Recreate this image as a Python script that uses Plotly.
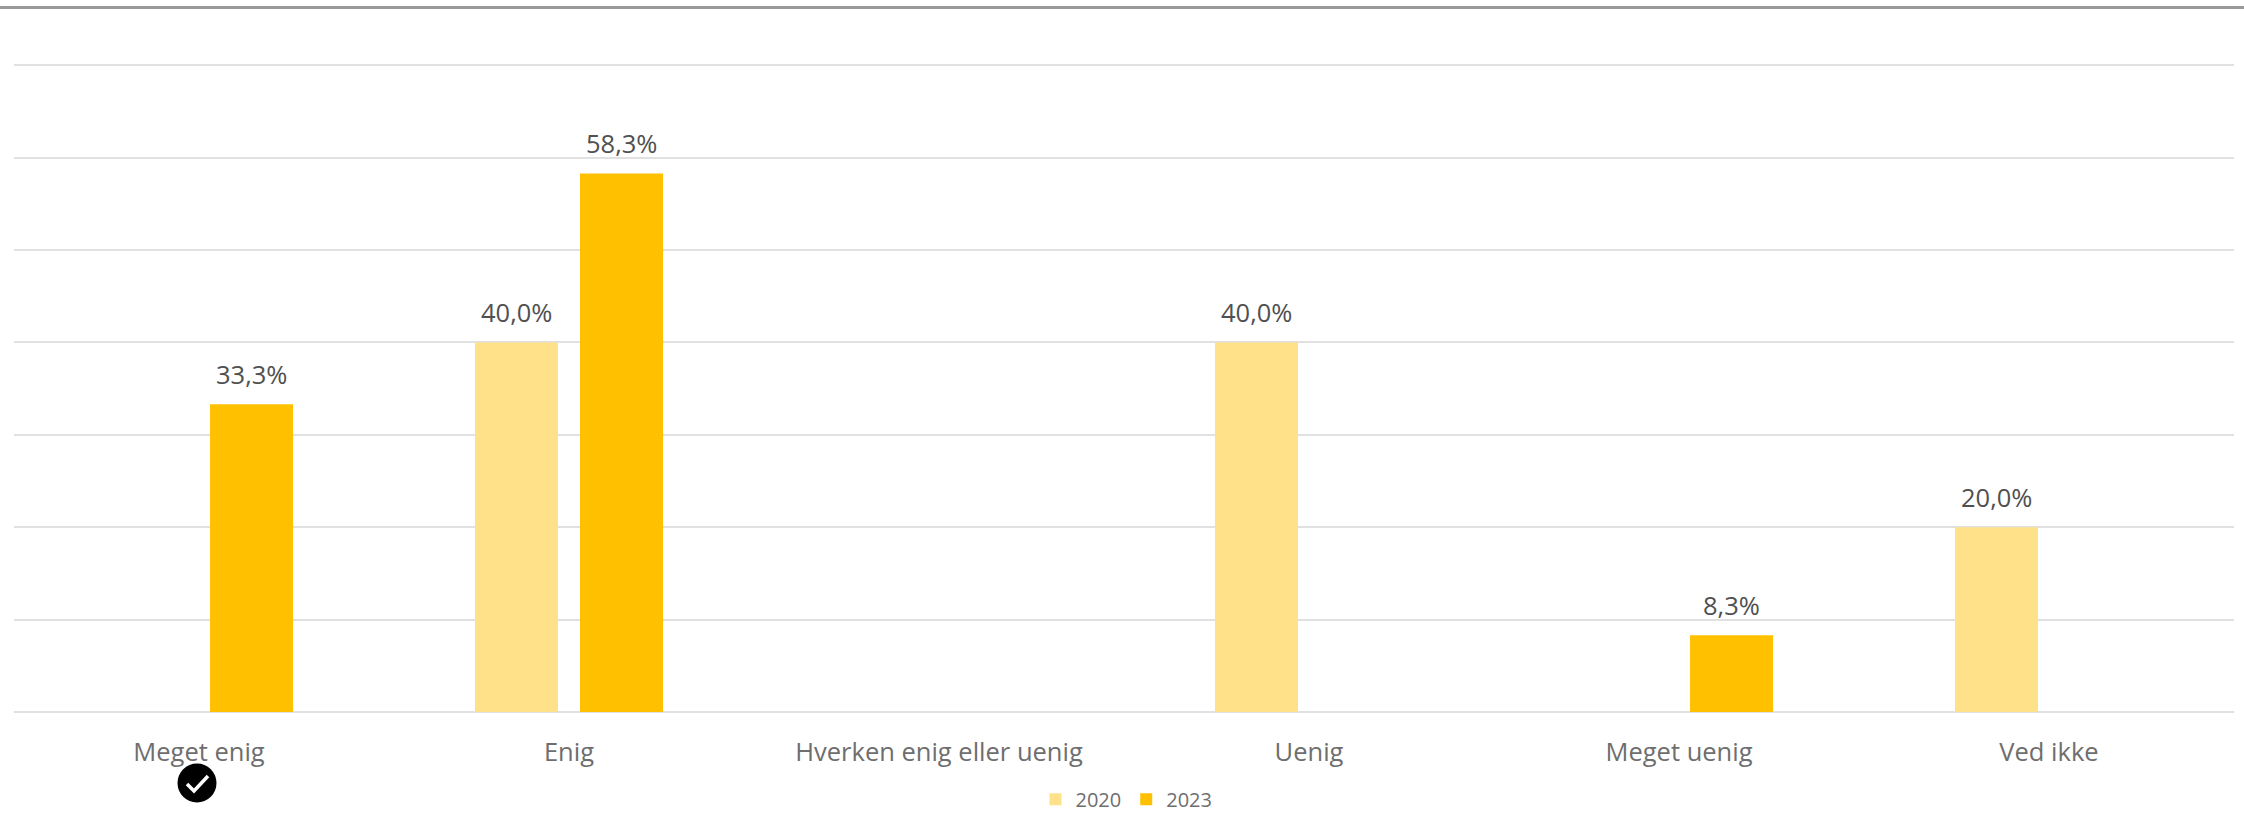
import plotly.graph_objects as go

categories = ["Meget enig", "Enig", "Hverken enig eller uenig", "Uenig", "Meget uenig", "Ved ikke"]
values_2020 = [None, 40.0, None, 40.0, None, 20.0]
values_2023 = [33.3, 58.3, None, None, 8.3, None]
y_ticks = [0, 10, 20, 30, 40, 50, 60, 70]

W, H = 2244, 814
L, R, T, B = 14, 10, 63, 102
BARGAP, GROUPGAP = 0.432, 0.21
slot = (1 - BARGAP) / 2

fig = go.Figure()
annotations = []
for s, (name, vals, col) in enumerate([("2020", values_2020, "#FFE18A"), ("2023", values_2023, "#FFC000")]):
    fig.add_bar(name=name, x=categories, y=vals, marker=dict(color=col, line=dict(width=0)))
    for i, v in enumerate(vals):
        if v is not None:
            annotations.append(dict(
                x=i + (s - 0.5) * slot, y=v, xref="x", yref="y", yshift=30, yanchor="middle", xanchor="center",
                showarrow=False, text=f"{v:.1f}%".replace(".", ","),
                font=dict(family="Open Sans", size=25.5, color="#505050"),
            ))

PW, PH = W - L - R, H - T - B
def xp(x): return (x - L) / PW
def yp(y): return (H - B - y) / PH

shapes = [
    dict(type="line", xref="paper", yref="paper", x0=xp(0), x1=xp(W), y0=yp(7.5), y1=yp(7.5),
         line=dict(color="#999999", width=3)),
]
cx, cy, r = 197, 783, 19.5
shapes.append(dict(type="circle", xref="paper", yref="paper", x0=xp(cx-r), x1=xp(cx+r), y0=yp(cy+r), y1=yp(cy-r),
                   fillcolor="#000000", line=dict(width=0)))
pts = [(cx-10, cy+1), (cx-3, cy+8), (cx+11, cy-7)]
path = "M " + " L ".join(f"{xp(a):.5f},{yp(b):.5f}" for a, b in pts)
shapes.append(dict(type="path", xref="paper", yref="paper", path=path, line=dict(color="#ffffff", width=3.5)))

fig.update_layout(
    width=W, height=H, autosize=False,
    margin=dict(l=L, r=R, t=T, b=B, pad=0),
    paper_bgcolor="#ffffff", plot_bgcolor="#ffffff",
    barmode="group", bargap=BARGAP, bargroupgap=GROUPGAP,
    font=dict(family="Open Sans", color="#6b6b6b"),
    xaxis=dict(type="category", categoryorder="array", categoryarray=categories, showgrid=False,
               showline=False, ticks="outside", ticklen=17, tickcolor="rgba(0,0,0,0)", automargin=False,
               tickfont=dict(family="Open Sans", size=25.5, color="#6e6e6e"), zeroline=False),
    yaxis=dict(range=[0, 70.25], tickvals=y_ticks, showticklabels=False, showgrid=True, automargin=False,
               gridcolor="#e1e1e1", gridwidth=2, zeroline=True, zerolinecolor="#e1e1e1", zerolinewidth=2,
               showline=False, ticks=""),
    legend=dict(orientation="h", x=0.502, xanchor="center", xref="container", y=0.018, yanchor="middle", yref="container",
                font=dict(family="Open Sans", size=20, color="#6e6e6e"), itemwidth=30,
                borderwidth=0, bgcolor="rgba(0,0,0,0)"),
    shapes=shapes,
    annotations=annotations,
)
fig.write_html("out.html", config={"displayModeBar": False},
               post_script="document.body.style.margin='0';document.body.style.overflow='hidden';")
